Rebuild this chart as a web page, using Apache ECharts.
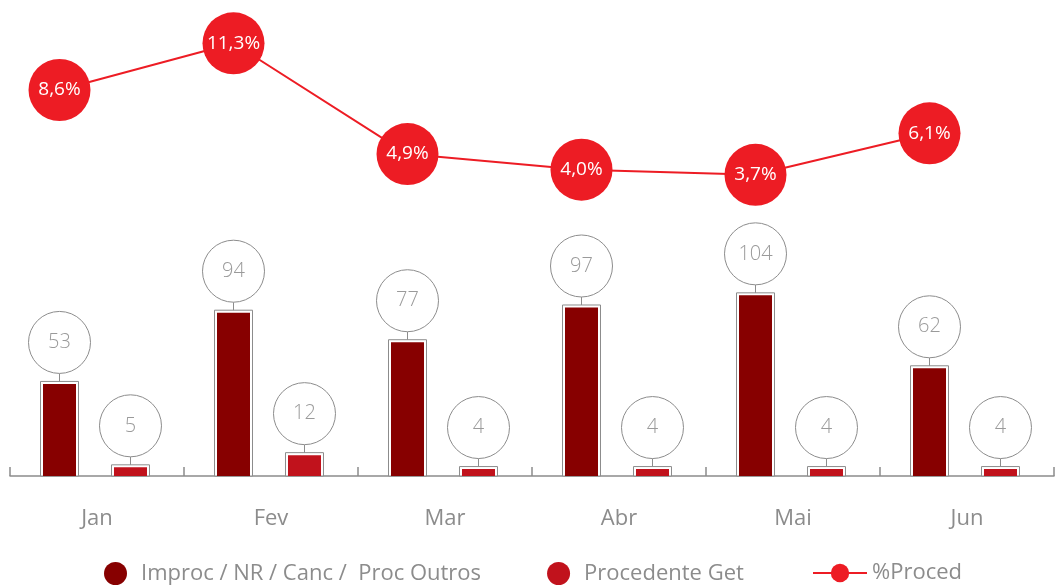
<!DOCTYPE html>
<html>
<head>
<meta charset="utf-8">
<script src="https://cdn.jsdelivr.net/npm/echarts@6/dist/echarts.min.js"></script>
<style>
html, body { margin: 0; padding: 0; background: #fff; }
#chart { width: 1056px; height: 586px; }
</style>
</head>
<body>
<div id="chart"></div>
<script>
// dados do gráfico
var categories = ['Jan', 'Fev', 'Mar', 'Abr', 'Mai', 'Jun'];
var improc = [53, 94, 77, 97, 104, 62];
var procedente = [5, 12, 4, 4, 4, 4];
var pctProced = [8.6, 11.3, 4.9, 4.0, 3.7, 6.1];

var FONT = '"Open Sans", sans-serif';
var GREY = '#8c8c8c';

// barra com contorno cinza e bolinha com o valor em cima
function makeRender(offsetRatio) {
    return function (params, api) {
        var idx = api.value(0);
        var val = api.value(1);
        var band = api.size([1, 0])[0];
        var top = api.coord([idx, val]);
        var base = api.coord([idx, 0]);
        var cx = top[0] + band * offsetRatio;
        var fillW = 33, pad = 2.5, r = 31, stem = 8;
        var topY = top[1];
        var baseY = base[1];
        return {
            type: 'group',
            children: [
                {
                    type: 'rect',
                    shape: { x: cx - fillW / 2 - pad, y: topY - pad, width: fillW + 2 * pad, height: baseY - topY + pad },
                    style: { fill: '#fff', stroke: GREY, lineWidth: 1 }
                },
                {
                    type: 'rect',
                    shape: { x: cx - fillW / 2, y: topY, width: fillW, height: baseY - topY },
                    style: { fill: api.visual('color') }
                },
                {
                    type: 'line',
                    shape: { x1: cx, y1: topY - pad, x2: cx, y2: topY - pad - stem },
                    style: { stroke: GREY, lineWidth: 1 }
                },
                {
                    type: 'circle',
                    shape: { cx: cx, cy: topY - pad - stem - r, r: r },
                    style: { fill: '#fff', stroke: GREY, lineWidth: 1 }
                },
                {
                    type: 'text',
                    x: cx, y: topY - pad - stem - r,
                    style: {
                        text: String(val), fill: '#9a9a9a', font: '300 20px ' + FONT,
                        align: 'center', verticalAlign: 'middle'
                    }
                }
            ]
        };
    };
}

var myChart = echarts.init(document.getElementById('chart'));

var option = {
    animation: false,
    grid: [
        { left: 10, right: 2, top: 0, bottom: 110 },
        // grade da linha: pontos alinhados ao centro da barra escura
        { left: 59.5, right: 126.5, top: 0, bottom: 110 }
    ],
    legend: [
        {
            left: 99, top: 557,
            itemWidth: 23, itemHeight: 23, itemGap: 66,
            icon: 'circle',
            textStyle: { color: GREY, fontSize: 22, fontFamily: FONT, padding: [0, 0, 0, 9] },
            data: ['Improc / NR / Canc /  Proc Outros', 'Procedente Get']
        },
        {
            left: 807, top: 557,
            itemWidth: 54, itemHeight: 23,
            textStyle: { color: GREY, fontSize: 22, fontFamily: FONT, padding: [0, 0, 0, 0] },
            data: ['%Proced']
        }
    ],
    xAxis: [
        {
            type: 'category', gridIndex: 0, data: categories,
            axisLine: { show: true, lineStyle: { color: GREY, width: 1.5 } },
            axisTick: { show: true, inside: true, length: 9, interval: 0, lineStyle: { color: GREY, width: 1.5 } },
            axisLabel: { color: GREY, fontSize: 22, fontFamily: FONT, margin: 32 }
        },
        { type: 'category', gridIndex: 1, data: categories, boundaryGap: false, show: false }
    ],
    yAxis: [
        { type: 'value', gridIndex: 0, min: 0, max: 274, show: false, splitLine: { show: false } },
        { type: 'value', gridIndex: 1, min: -13.7, max: 13.8, show: false, splitLine: { show: false } }
    ],
    series: [
        {
            name: 'Improc / NR / Canc /  Proc Outros',
            type: 'custom',
            xAxisIndex: 0, yAxisIndex: 0,
            itemStyle: { color: '#870000' },
            renderItem: makeRender(-0.2155),
            data: improc.map(function (v, i) { return [i, v]; })
        },
        {
            name: 'Procedente Get',
            type: 'custom',
            xAxisIndex: 0, yAxisIndex: 0,
            itemStyle: { color: '#c1121c' },
            renderItem: makeRender(0.1925),
            data: procedente.map(function (v, i) { return [i, v]; })
        },
        {
            name: '%Proced',
            type: 'line',
            xAxisIndex: 1, yAxisIndex: 1,
            data: pctProced,
            symbol: 'circle',
            symbolSize: 62,
            clip: false,
            itemStyle: { color: '#ed1c24' },
            lineStyle: { color: '#ed1c24', width: 2 },
            label: {
                show: true, position: 'inside', color: '#fff',
                fontSize: 19, fontFamily: FONT,
                formatter: function (p) { return p.value.toFixed(1).replace('.', ',') + '%'; }
            },
            z: 3
        }
    ]
};

myChart.setOption(option);
</script>
</body>
</html>
